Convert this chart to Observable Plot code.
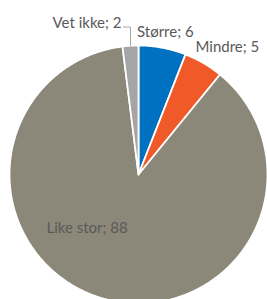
<!DOCTYPE html>
<html><head><meta charset="utf-8">
<script src="https://cdn.jsdelivr.net/npm/d3@7"></script>
<script src="https://cdn.jsdelivr.net/npm/@observablehq/plot@0.6"></script>
<style>html,body{margin:0;padding:0;background:#fff} svg{display:block}</style>
</head><body><div id="chart"></div>
<script>
// ---- data ----
const categories = ["Større", "Mindre", "Like stor", "Vet ikke"];
const values = [6, 5, 88, 2];
const colors = ["#0070C0", "#F05A28", "#8C8879", "#A5A5A5"];

// ---- layout ----
const W = 267, H = 299, cx = 138, cy = 174, R = 129;

const slices = d3.pie().sort(null).value(d => d.value)(
  categories.map((c, i) => ({category: c, value: values[i], color: colors[i]}))
);

function slicePoints(a) {
  const n = Math.max(2, Math.ceil((a.endAngle - a.startAngle) / 0.01));
  const p = [{x: 0, y: 0}];
  for (let k = 0; k <= n; k++) {
    const t = a.startAngle + (a.endAngle - a.startAngle) * k / n;
    p.push({x: Math.sin(t), y: Math.cos(t)});
  }
  p.push({x: 0, y: 0});
  return p;
}
const polar = (t, r) => ({x: r * Math.sin(t), y: r * Math.cos(t)});
const mid = a => (a.startAngle + a.endAngle) / 2;

// label placement (style offsets relative to slice mid-angle)
const labelStyle = {
  "Større":   {r: 1.12, dx: 0,   dy: 0,   anchor: "middle"},
  "Mindre":   {r: 1.12, dx: 16,  dy: -3,  anchor: "middle"},
  "Like stor":{r: 0.6,  dx: -30, dy: -21, anchor: "middle"},
  "Vet ikke": {r: 1.0,  dx: 0,   dy: 0,   anchor: "end"}
};

const labels = slices.map(a => {
  const s = labelStyle[a.data.category];
  const p = polar(mid(a), s.r);
  return {...p, text: `${a.data.category}; ${a.data.value}`, ...s};
});

// leader for "Vet ikke"
const vet = slices[3];
const base = polar(mid(vet), 1.0);
const topY = (cy - 26.5) / R;
const leader = [base, {x: base.x, y: topY}, {x: base.x - 7 / R, y: topY}];
const vetLabel = labels[3];
vetLabel.x = leader[2].x; vetLabel.y = leader[2].y; vetLabel.dx = -2; vetLabel.dy = -4;

const marks = slices.map(a =>
  Plot.line(slicePoints(a), {x: "x", y: "y", fill: a.data.color, stroke: "white", strokeWidth: 1.8, strokeLinejoin: "round"})
);
marks.push(Plot.line(leader, {x: "x", y: "y", stroke: "#A6A6A6", strokeWidth: 1}));
for (const l of labels) {
  marks.push(Plot.text([l], {x: "x", y: "y", text: "text", dx: l.dx, dy: l.dy, textAnchor: l.anchor,
    fill: "#595959", fontSize: 15, lineAnchor: "middle"}));
}

const chart = Plot.plot({
  width: W, height: H,
  marginTop: 0, marginRight: 0, marginBottom: 0, marginLeft: 0,
  x: {domain: [-cx / R, (W - cx) / R], range: [0, W], axis: null},
  y: {domain: [-(H - cy) / R, cy / R], range: [H, 0], axis: null},
  style: {fontFamily: "Lato, sans-serif", background: "#fff", overflow: "hidden"},
  marks
});
document.getElementById("chart").appendChild(chart);
</script>
</body></html>
